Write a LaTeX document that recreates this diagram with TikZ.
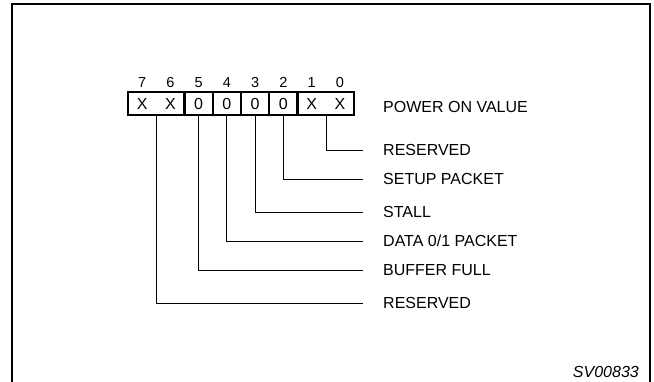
\documentclass[tikz,border=0pt]{standalone}
\usepackage{fontspec}
\setmainfont{Liberation Sans}
\begin{document}
\begin{tikzpicture}[x=1pt,y=1pt,
  cell/.style={rectangle,minimum width=28.25pt,minimum height=23pt,inner sep=0pt,
    font=\fontsize{16}{16}\selectfont,text height=11.5pt,text depth=0pt},
  bitnum/.style={inner sep=0pt,anchor=base,font=\fontsize{14.5}{14.5}\selectfont},
  lbl/.style={anchor=west,inner sep=0pt,font=\fontsize{16}{16}\selectfont,text height=11.5pt,text depth=0pt},
  regbox/.style={line width=1.8pt},
  lead/.style={line width=0.9pt},
  frame/.style={line width=2.3pt}]
\useasboundingbox (0,0) rectangle (654,381);
% frame (open at bottom)
\draw[frame] (12,-5) -- (12,377) -- (650,377) -- (650,-5);
% register cells
\node[cell] (b7) at (142.125,277.5) {X};
\node[cell] (b6) at (170.375,277.5) {X};
\node[cell] (b5) at (198.625,277.5) {0};
\node[cell] (b4) at (226.875,277.5) {0};
\node[cell] (b3) at (255.125,277.5) {0};
\node[cell] (b2) at (283.375,277.5) {0};
\node[cell] (b1) at (311.625,277.5) {X};
\node[cell] (b0) at (339.875,277.5) {X};
\draw[regbox] (b7.north west) rectangle (b6.south east);
\draw[regbox] (b5.north west) rectangle (b5.south east);
\draw[regbox] (b4.north west) rectangle (b4.south east);
\draw[regbox] (b3.north west) rectangle (b3.south east);
\draw[regbox] (b2.north west) rectangle (b2.south east);
\draw[regbox] (b1.north west) rectangle (b0.south east);
% bit numbers
\foreach \b/\n in {b7/7,b6/6,b5/5,b4/4,b3/3,b2/2,b1/1,b0/0}
  \node[bitnum] (n\n) at ([yshift=4pt]\b.north) {\n};
% labels
\node[lbl,anchor=base west] (pov) at (383,268.7) {POWER ON VALUE};
\node[lbl] (l10) at (383,231) {RESERVED};
\node[lbl] (l2) at (383,202) {SETUP PACKET};
\node[lbl] (l3) at (383,169) {STALL};
\node[lbl] (l4) at (383,140) {DATA 0/1 PACKET};
\node[lbl] (l5) at (383,111) {BUFFER FULL};
\node[lbl] (l76) at (383,78) {RESERVED};
% leads
\draw[lead] (b1.south east) |- ([xshift=-20pt]l10.west);
\draw[lead] (b2.south) |- ([xshift=-20pt]l2.west);
\draw[lead] (b3.south) |- ([xshift=-20pt]l3.west);
\draw[lead] (b4.south) |- ([xshift=-20pt]l4.west);
\draw[lead] (b5.south) |- ([xshift=-20pt]l5.west);
\draw[lead] (b7.south east) |- ([xshift=-20pt]l76.west);
% figure id
\node[inner sep=0pt,anchor=base east,font=\fontsize{16}{16}\selectfont\itshape] (sv) at (639,3.3) {SV00833};
\end{tikzpicture}
\end{document}
